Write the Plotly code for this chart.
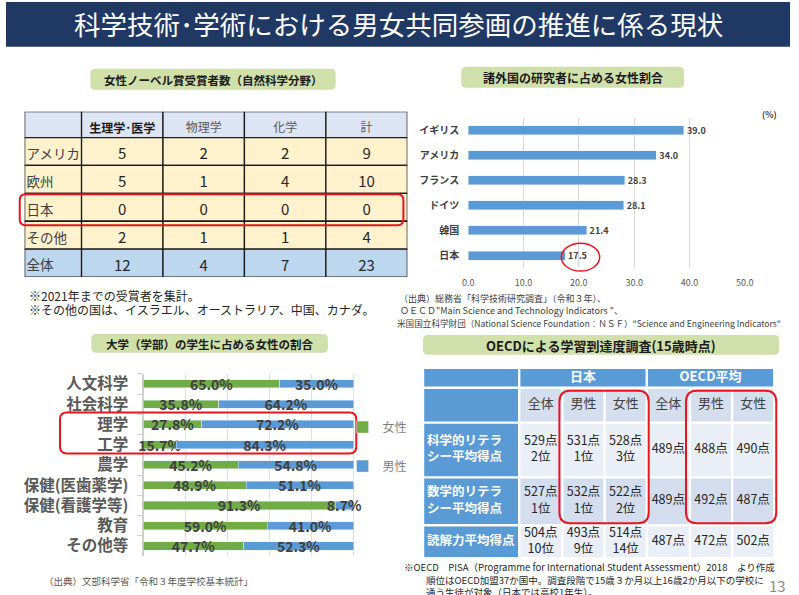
import plotly.graph_objects as go

# ── data ───────────────────────────────────────────────────────────
TITLE = "科学技術･学術における男女共同参画の推進に係る現状"

NOBEL_COLS = ["生理学･医学", "物理学", "化学", "計"]
NOBEL_ROWS = ["アメリカ", "欧州", "日本", "その他", "全体"]
NOBEL_VALUES = [
    [5, 2, 2, 9],
    [5, 1, 4, 10],
    [0, 0, 0, 0],
    [2, 1, 1, 4],
    [12, 4, 7, 23],
]

RES_COUNTRIES = ["イギリス", "アメリカ", "フランス", "ドイツ", "韓国", "日本"]
RES_SHARE = [39.0, 34.0, 28.3, 28.1, 21.4, 17.5]
RES_TICKS = [0, 10, 20, 30, 40, 50]

FIELDS = ["人文科学", "社会科学", "理学", "工学", "農学",
          "保健(医歯薬学)", "保健(看護学等)", "教育", "その他等"]
FEMALE = [65.0, 35.8, 27.8, 15.7, 45.2, 48.9, 91.3, 59.0, 47.7]
MALE = [35.0, 64.2, 72.2, 84.3, 54.8, 51.1, 8.7, 41.0, 52.3]

PISA_GROUPS = ["日本", "OECD平均"]
PISA_SUBS = ["全体", "男性", "女性"]
PISA_ROWS = ["科学的リテラ<br>シー平均得点", "数学的リテラ<br>シー平均得点", "読解力平均得点"]
JP_SCORES = [[529, 531, 528], [527, 532, 522], [504, 493, 514]]
JP_RANKS = [[2, 1, 3], [1, 1, 2], [10, 9, 14]]
OECD_SCORES = [[489, 488, 490], [489, 492, 487], [487, 472, 502]]

# ── layout helpers (pixel -> paper) ───────────────────────────────
W, H = 799, 595
FONT = "Noto Sans CJK JP"
GREEN_BOX = "#cfe0ab"
RED = "#e8141e"


def px(x):
    return x / W


def py(y):
    return 1 - y / H


def rrect(x0, y0, x1, y1, r):
    return (f"M{px(x0 + r)},{py(y0)} L{px(x1 - r)},{py(y0)} "
            f"Q{px(x1)},{py(y0)} {px(x1)},{py(y0 + r)} L{px(x1)},{py(y1 - r)} "
            f"Q{px(x1)},{py(y1)} {px(x1 - r)},{py(y1)} L{px(x0 + r)},{py(y1)} "
            f"Q{px(x0)},{py(y1)} {px(x0)},{py(y1 - r)} L{px(x0)},{py(y0 + r)} "
            f"Q{px(x0)},{py(y0)} {px(x0 + r)},{py(y0)} Z")


def edges(sizes):
    out = [0]
    for s in sizes:
        out.append(out[-1] + s)
    return out


shapes = []
annotations = []


def note(text, x, y, size, color="#404040", anchor="left", bold=False):
    annotations.append(dict(
        text=text, x=px(x), y=py(y), xref="paper", yref="paper",
        xanchor=anchor, yanchor="middle", showarrow=False,
        font=dict(family=FONT, size=size, color=color,
                  weight="bold" if bold else "normal"),
    ))


def heading(text, x0, y0, x1, y1, size=11.5):
    shapes.append(dict(type="path", path=rrect(x0, y0, x1, y1, 5),
                       xref="paper", yref="paper", fillcolor=GREEN_BOX,
                       line=dict(width=0), layer="below"))
    note(text, (x0 + x1) / 2, (y0 + y1) / 2 + 0.5, size, "#1a1a1a", "center", True)


fig = go.Figure()

# ── title bar ─────────────────────────────────────────────────────
shapes.append(dict(type="rect", xref="paper", yref="paper",
                   x0=0, x1=1, y0=py(45), y1=1, fillcolor="#203864",
                   line=dict(width=0), layer="below"))
note(TITLE, 400, 22, 26.5, "white", "center")

# ── top-left: Nobel table ─────────────────────────────────────────
heading("女性ノーベル賞受賞者数（自然科学分野）", 86, 67, 336, 88)

T1_COL_W = [58, 83, 83, 83, 83]
T1_ROW_H = [26, 28, 28, 28, 28, 28]
cx1 = edges(T1_COL_W)
cy1 = edges(T1_ROW_H)
for r in range(len(T1_ROW_H)):
    if r == 0:
        fill = "#dde5f4"
    elif r == len(T1_ROW_H) - 1:
        fill = "#bdd7ee"
    else:
        fill = "#fff2cc"
    for c in range(len(T1_COL_W)):
        shapes.append(dict(type="rect", xref="x3", yref="y3",
                           x0=cx1[c], x1=cx1[c + 1], y0=cy1[r], y1=cy1[r + 1],
                           fillcolor=fill, line=dict(color="#1a1a1a", width=1.3),
                           layer="below"))

mid_x1 = [(cx1[i] + cx1[i + 1]) / 2 for i in range(len(T1_COL_W))]
mid_y1 = [(cy1[i] + cy1[i + 1]) / 2 + 4 for i in range(len(T1_ROW_H))]

fig.add_trace(go.Scatter(
    x=[mid_x1[1]], y=[mid_y1[0] + 1], text=[NOBEL_COLS[0]], mode="text",
    textfont=dict(family=FONT, size=12, color="#1a1a1a", weight="bold"),
    xaxis="x3", yaxis="y3", hoverinfo="skip", showlegend=False))
fig.add_trace(go.Scatter(
    x=mid_x1[2:], y=[mid_y1[0]] * 3, text=NOBEL_COLS[1:], mode="text",
    textfont=dict(family=FONT, size=12, color="#595959"),
    xaxis="x3", yaxis="y3", hoverinfo="skip", showlegend=False))
fig.add_trace(go.Scatter(
    x=[2] * len(NOBEL_ROWS), y=mid_y1[1:], text=NOBEL_ROWS, mode="text",
    textposition="middle right",
    textfont=dict(family=FONT, size=13.5, color="#404040"),
    xaxis="x3", yaxis="y3", hoverinfo="skip", showlegend=False))
nx, ny, nt = [], [], []
for r, row in enumerate(NOBEL_VALUES):
    for c, v in enumerate(row):
        nx.append(mid_x1[c + 1])
        ny.append(mid_y1[r + 1])
        nt.append(str(v))
fig.add_trace(go.Scatter(
    x=nx, y=ny, text=nt, mode="text",
    textfont=dict(family=FONT, size=15, color="#262626"),
    xaxis="x3", yaxis="y3", hoverinfo="skip", showlegend=False))

shapes.append(dict(type="path", path=rrect(14, 193, 405, 224, 6),
                   xref="paper", yref="paper", line=dict(color=RED, width=2)))
note("※2021年までの受賞者を集計。", 21, 294, 12, "#262626")
note("※その他の国は、イスラエル、オーストラリア、中国、カナダ。", 21, 309, 12, "#262626")

# ── top-right: researchers bar chart ─────────────────────────────
heading("諸外国の研究者に占める女性割合", 464, 65, 691, 86, 12)
fig.add_trace(go.Bar(
    x=RES_SHARE, y=RES_COUNTRIES, orientation="h",
    marker=dict(color="#5b9bd5"), width=0.36,
    text=RES_SHARE, texttemplate="%{x:.1f}", textposition="outside",
    constraintext="none",
    textfont=dict(family=FONT, size=9, color="#404040", weight="bold"),
    cliponaxis=False, hoverinfo="skip", showlegend=False,
    xaxis="x", yaxis="y"))
note("(%)", 778, 112, 8.5, "#404040", "center", True)
shapes.append(dict(type="circle", xref="paper", yref="paper",
                   x0=px(566), x1=px(605), y0=py(270), y1=py(242),
                   line=dict(color=RED, width=1.5)))
note("（出典）総務省「科学技術研究調査」（令和３年）、", 398, 298, 9)
note("ＯＥＣＤ\"Main Science and Technology Indicators \"、", 399, 310, 9)
note("米国国立科学財団（National Science Foundation：ＮＳＦ）\"Science and Engineering Indicators\"",
     396, 322, 8.6)

# ── bottom-left: students stacked bar ────────────────────────────
heading("大学（学部）の学生に占める女性の割合", 87, 333, 328, 352)
for name, vals, color in [("女性", FEMALE, "#70ad47"), ("男性", MALE, "#5b9bd5")]:
    fig.add_trace(go.Bar(
        x=vals, y=FIELDS, orientation="h", name=name, legendgroup=name,
        marker=dict(color=color), width=0.4,
        text=vals, texttemplate="%{x:.1f}%", textposition="inside",
        insidetextanchor="middle", textangle=0, constraintext="none",
        textfont=dict(family=FONT, size=14, color="#404040", weight="bold"),
        cliponaxis=False, hoverinfo="skip", xaxis="x2", yaxis="y2"))
shapes.append(dict(type="path", path=rrect(55, 412, 357, 453, 7),
                   xref="paper", yref="paper", line=dict(color=RED, width=2)))
note("（出典）文部科学省「令和３年度学校基本統計」", 37, 581, 9.5, "#595959")

# ── bottom-right: PISA table ─────────────────────────────────────
heading("OECDによる学習到達度調査(15歳時点)", 425, 334, 788, 354, 13)
T2_COL_W = [98, 44, 43, 43, 44, 43, 43]
T2_ROW_H = [20, 35, 55, 48, 33]
cx2 = edges(T2_COL_W)
cy2 = edges(T2_ROW_H)
GAP = 1.2
BLUE = "#5b9bd5"
BODY_FILLS = ["#e9eef7", "#d3ddee", "#e9eef7"]


def cell2(c0, c1, r0, r1, fill):
    shapes.append(dict(type="rect", xref="x4", yref="y4",
                       x0=cx2[c0] + GAP, x1=cx2[c1] - GAP,
                       y0=cy2[r0] + GAP, y1=cy2[r1] - GAP,
                       fillcolor=fill, line=dict(width=0), layer="below"))


cell2(0, 1, 0, 1, BLUE)
n_sub = len(PISA_SUBS)
for g in range(len(PISA_GROUPS)):
    cell2(1 + g * n_sub, 1 + (g + 1) * n_sub, 0, 1, BLUE)
cell2(0, 1, 1, 2, BLUE)
for c in range(1, len(T2_COL_W)):
    cell2(c, c + 1, 1, 2, "#d5deed")
for r in range(len(PISA_ROWS)):
    cell2(0, 1, r + 2, r + 3, BLUE)
    for c in range(1, len(T2_COL_W)):
        cell2(c, c + 1, r + 2, r + 3, BODY_FILLS[r])

mid_x2 = [(cx2[i] + cx2[i + 1]) / 2 for i in range(len(T2_COL_W))]
mid_y2 = [(cy2[i] + cy2[i + 1]) / 2 for i in range(len(T2_ROW_H))]

gx = [(cx2[1 + g * n_sub] + cx2[1 + (g + 1) * n_sub]) / 2 for g in range(len(PISA_GROUPS))]
fig.add_trace(go.Scatter(
    x=gx, y=[mid_y2[0]] * len(gx), text=PISA_GROUPS, mode="text",
    textfont=dict(family=FONT, size=13, color="white", weight="bold"),
    xaxis="x4", yaxis="y4", hoverinfo="skip", showlegend=False))
fig.add_trace(go.Scatter(
    x=mid_x2[1:], y=[mid_y2[1]] * (len(T2_COL_W) - 1), text=PISA_SUBS * len(PISA_GROUPS),
    mode="text", textfont=dict(family=FONT, size=13, color="#404040"),
    xaxis="x4", yaxis="y4", hoverinfo="skip", showlegend=False))
fig.add_trace(go.Scatter(
    x=[4] * len(PISA_ROWS), y=mid_y2[2:], text=PISA_ROWS, mode="text",
    textposition="middle right",
    textfont=dict(family=FONT, size=12.5, color="white", weight="bold"),
    xaxis="x4", yaxis="y4", hoverinfo="skip", showlegend=False))
sx, sy, st = [], [], []
for r in range(len(PISA_ROWS)):
    for i in range(n_sub):
        sx.append(mid_x2[1 + i])
        sy.append(mid_y2[r + 2])
        st.append(f"{JP_SCORES[r][i]}点<br>{JP_RANKS[r][i]}位")
        sx.append(mid_x2[1 + n_sub + i])
        sy.append(mid_y2[r + 2])
        st.append(f"{OECD_SCORES[r][i]}点")
fig.add_trace(go.Scatter(
    x=sx, y=sy, text=st, mode="text",
    textfont=dict(family=FONT, size=12.5, color="#262626"),
    xaxis="x4", yaxis="y4", hoverinfo="skip", showlegend=False))

shapes.append(dict(type="path", path=rrect(564, 390, 655, 523, 11),
                   xref="paper", yref="paper", line=dict(color=RED, width=2)))
shapes.append(dict(type="path", path=rrect(693, 390, 785, 523, 11),
                   xref="paper", yref="paper", line=dict(color=RED, width=2)))
note("※OECD　PISA（Programme for International Student Assessment）2018　より作成",
     404, 567, 9.5, "#262626")
note("順位はOECD加盟37か国中。調査段階で15歳３か月以上16歳2か月以下の学校に",
     426, 580, 9.5, "#262626")
note("通う生徒が対象（日本では高校1年生）。", 426, 592, 9.5, "#262626")
note("13", 797, 585, 15, "#8c8c8c", "right")

# ── axes ──────────────────────────────────────────────────────────
fig.update_layout(
    width=W, height=H, margin=dict(l=0, r=0, t=0, b=0),
    paper_bgcolor="white", plot_bgcolor="rgba(0,0,0,0)",
    font=dict(family=FONT),
    barmode="stack",
    shapes=shapes, annotations=annotations,
    xaxis=dict(domain=[px(471), px(753)], range=[0, 50], anchor="y",
               tickvals=RES_TICKS, tickformat=".1f", showgrid=True,
               gridcolor="#d9d9d9", zeroline=False, showline=False,
               ticks="outside", ticklen=6, tickcolor="rgba(0,0,0,0)",
               tickfont=dict(size=9, color="#595959"), fixedrange=True),
    yaxis=dict(domain=[py(267), py(116)], anchor="x", autorange="reversed",
               showgrid=False, ticks="outside", ticklen=6,
               tickcolor="rgba(0,0,0,0)",
               tickfont=dict(size=10, color="#404040", weight="bold"),
               fixedrange=True),
    xaxis2=dict(domain=[px(140), px(397)], range=[0, 120], anchor="y2",
                dtick=20, showticklabels=False, showgrid=True,
                gridcolor="#e0e0e0", zeroline=True, zerolinecolor="#d0d0d0",
                fixedrange=True),
    yaxis2=dict(domain=[py(556), py(373)], anchor="x2", autorange="reversed",
                showgrid=False, ticks="outside", tickson="boundaries",
                ticklen=5, tickcolor="#d0d0d0", ticklabelstandoff=14,
                tickfont=dict(size=15.5, color="#595959", weight="bold"),
                fixedrange=True),
    xaxis3=dict(domain=[px(19), px(409)], range=[0, sum(T1_COL_W)],
                anchor="y3", visible=False, fixedrange=True),
    yaxis3=dict(domain=[py(276), py(110)], range=[sum(T1_ROW_H), 0],
                anchor="x3", visible=False, fixedrange=True),
    xaxis4=dict(domain=[px(425), px(783)], range=[0, sum(T2_COL_W)],
                anchor="y4", visible=False, fixedrange=True),
    yaxis4=dict(domain=[py(558), py(367)], range=[sum(T2_ROW_H), 0],
                anchor="x4", visible=False, fixedrange=True),
    legend=dict(x=px(343), y=py(412), xanchor="left", yanchor="top",
                font=dict(size=12, color="#7f7f7f"), tracegroupgap=20,
                bgcolor="rgba(0,0,0,0)"),
)

fig.write_html(
    "out.html",
    config={"displayModeBar": False},
    post_script="document.body.style.margin='0';document.body.style.overflow='hidden';",
)
